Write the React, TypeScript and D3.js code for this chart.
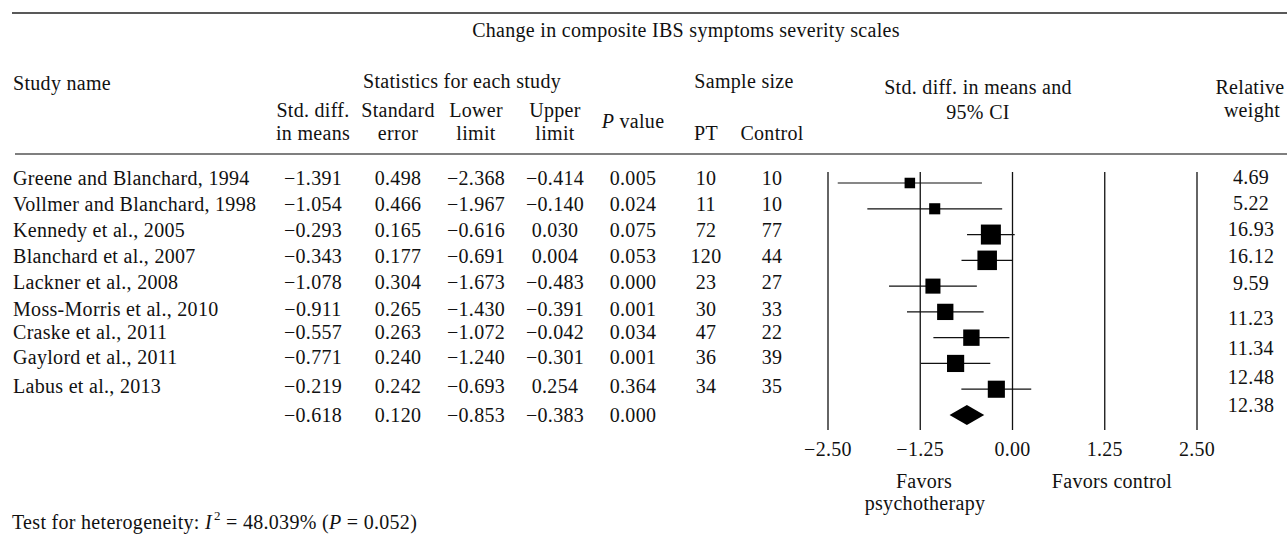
import React from "react";
import * as d3 from "d3";

// ---------- data ----------
const studies = [
  "Greene and Blanchard, 1994",
  "Vollmer and Blanchard, 1998",
  "Kennedy et al., 2005",
  "Blanchard et al., 2007",
  "Lackner et al., 2008",
  "Moss-Morris et al., 2010",
  "Craske et al., 2011",
  "Gaylord et al., 2011",
  "Labus et al., 2013",
];
const smd = [-1.391, -1.054, -0.293, -0.343, -1.078, -0.911, -0.557, -0.771, -0.219];
const stdErr = [0.498, 0.466, 0.165, 0.177, 0.304, 0.265, 0.263, 0.24, 0.242];
const lowerLimit = [-2.368, -1.967, -0.616, -0.691, -1.673, -1.43, -1.072, -1.24, -0.693];
const upperLimit = [-0.414, -0.14, 0.03, 0.004, -0.483, -0.391, -0.042, -0.301, 0.254];
const pValues = [0.005, 0.024, 0.075, 0.053, 0.0, 0.001, 0.034, 0.001, 0.364];
const ptN = [10, 11, 72, 120, 23, 30, 47, 36, 34];
const controlN = [10, 10, 77, 44, 27, 33, 22, 39, 35];
const weights = [4.69, 5.22, 16.93, 16.12, 9.59, 11.23, 11.34, 12.48, 12.38];
const pooled = { smd: -0.618, se: 0.12, lower: -0.853, upper: -0.383, p: 0.0 };
const axisTicks = [-2.5, -1.25, 0, 1.25, 2.5];

// ---------- layout ----------
const W = 1287;
const H = 538;
const FONT = "'Liberation Serif', 'Times New Roman', serif";
const FS = 20;
const LS = 0.3;
// centre y of each table text row (studies then pooled)
const tableRowY = [178, 204, 230, 256, 282, 309, 332, 357, 386, 415];
// centre y of each relative-weight label
const weightLabelY = [177, 203, 229, 256, 283, 318, 348, 377, 405];
const colX = { smd: 313, se: 398, lower: 476, upper: 555, p: 633, pt: 706, ctrl: 772 };

const f3 = d3.format(".3f");
const f2 = d3.format(".2f");

export default function App() {
  const x = d3.scaleLinear().domain([-2.5, 2.5]).range([828, 1197]);
  const y = d3.scaleLinear().domain([0, 9]).range([183, 415]);
  const side = d3.scaleSqrt().domain([0, 16.93]).range([0, 20]);

  const txt = {
    fontFamily: FONT,
    fontSize: FS,
    letterSpacing: LS,
    fill: "#111",
  } as React.CSSProperties;

  const cell = (v: string, cx: number, cy: number, key: string) => (
    <text key={key} x={cx} y={cy} textAnchor="middle" dominantBaseline="central" style={txt}>
      {v}
    </text>
  );

  const pooledRow = 9;
  const px = x(pooled.smd);
  const py = y(pooledRow);
  const diamond = d3.line()([
    [x(pooled.lower), py],
    [px, py - 10],
    [x(pooled.upper), py],
    [px, py + 10],
    [x(pooled.lower), py],
  ] as [number, number][]);

  return (
    <svg width={W} height={H} style={{ position: "absolute", left: 0, top: 0, background: "#fff" }}>
      <rect x={0} y={0} width={W} height={H} fill="#fff" />
      {/* rules */}
      <line x1={12} x2={W} y1={13} y2={13} stroke="#222" strokeWidth={1.3} />
      <line x1={15} x2={W} y1={154} y2={154} stroke="#555" strokeWidth={1.6} />

      {/* headers */}
      <text x={686} y={37} textAnchor="middle" style={txt}>Change in composite IBS symptoms severity scales</text>
      <text x={13} y={90} style={txt}>Study name</text>
      <text x={462} y={88} textAnchor="middle" style={txt}>Statistics for each study</text>
      <text x={744} y={88} textAnchor="middle" style={txt}>Sample size</text>
      <text x={978} y={94} textAnchor="middle" style={txt}>Std. diff. in means and</text>
      <text x={978} y={119} textAnchor="middle" style={txt}>95% CI</text>
      <text x={1250} y={94} textAnchor="middle" style={txt}>Relative</text>
      <text x={1252} y={117} textAnchor="middle" style={txt}>weight</text>

      <text x={colX.smd} y={117} textAnchor="middle" style={txt}>Std. diff.</text>
      <text x={colX.smd} y={140} textAnchor="middle" style={txt}>in means</text>
      <text x={colX.se} y={117} textAnchor="middle" style={txt}>Standard</text>
      <text x={colX.se} y={140} textAnchor="middle" style={txt}>error</text>
      <text x={colX.lower} y={117} textAnchor="middle" style={txt}>Lower</text>
      <text x={colX.lower} y={140} textAnchor="middle" style={txt}>limit</text>
      <text x={colX.upper} y={117} textAnchor="middle" style={txt}>Upper</text>
      <text x={colX.upper} y={140} textAnchor="middle" style={txt}>limit</text>
      <text x={colX.p} y={128} textAnchor="middle" style={txt}>
        <tspan fontStyle="italic">P</tspan> value
      </text>
      <text x={colX.pt} y={140} textAnchor="middle" style={txt}>PT</text>
      <text x={colX.ctrl} y={140} textAnchor="middle" style={txt}>Control</text>

      {/* table body */}
      {studies.map((s, i) => (
        <g key={s}>
          <text x={13} y={tableRowY[i]} dominantBaseline="central" style={txt}>{s}</text>
          {cell(f3(smd[i]), colX.smd, tableRowY[i], "a")}
          {cell(f3(stdErr[i]), colX.se, tableRowY[i], "b")}
          {cell(f3(lowerLimit[i]), colX.lower, tableRowY[i], "c")}
          {cell(f3(upperLimit[i]), colX.upper, tableRowY[i], "d")}
          {cell(f3(pValues[i]), colX.p, tableRowY[i], "e")}
          {cell(String(ptN[i]), colX.pt, tableRowY[i], "f")}
          {cell(String(controlN[i]), colX.ctrl, tableRowY[i], "g")}
        </g>
      ))}
      <g>
        {cell(f3(pooled.smd), colX.smd, tableRowY[9], "pa")}
        {cell(f3(pooled.se), colX.se, tableRowY[9], "pb")}
        {cell(f3(pooled.lower), colX.lower, tableRowY[9], "pc")}
        {cell(f3(pooled.upper), colX.upper, tableRowY[9], "pd")}
        {cell(f3(pooled.p), colX.p, tableRowY[9], "pe")}
      </g>

      {/* weights */}
      {weights.map((w, i) => (
        <text key={i} x={1251} y={weightLabelY[i]} textAnchor="middle" dominantBaseline="central" style={txt}>
          {f2(w)}
        </text>
      ))}

      {/* forest plot grid */}
      {axisTicks.map((t) => (
        <g key={t}>
          <line x1={x(t)} x2={x(t)} y1={172} y2={430} stroke="#111" strokeWidth={1.3} />
          <text x={x(t)} y={449} textAnchor="middle" dominantBaseline="central" style={txt}>
            {f2(t)}
          </text>
        </g>
      ))}

      {/* study CIs and squares */}
      {studies.map((s, i) => {
        const cy = y(i);
        const sd = side(weights[i]);
        return (
          <g key={s}>
            <line x1={x(lowerLimit[i])} x2={x(upperLimit[i])} y1={cy} y2={cy} stroke="#111" strokeWidth={1.2} />
            <rect x={x(smd[i]) - sd / 2} y={cy - sd / 2} width={sd} height={sd} fill="#000" />
          </g>
        );
      })}
      <path d={diamond || ""} fill="#000" />

      {/* favors labels */}
      <text x={924} y={488} textAnchor="middle" style={txt}>Favors</text>
      <text x={925} y={510} textAnchor="middle" style={txt}>psychotherapy</text>
      <text x={1112} y={488} textAnchor="middle" style={txt}>Favors control</text>

      {/* heterogeneity */}
      <text x={12} y={529} style={txt}>
        Test for heterogeneity: <tspan fontStyle="italic">I</tspan>
        <tspan fontSize={13} dx={2} dy={-9}>2</tspan>
        <tspan dy={9}> = 48.039% (</tspan>
        <tspan fontStyle="italic">P</tspan>
        <tspan> = 0.052)</tspan>
      </text>
    </svg>
  );
}
